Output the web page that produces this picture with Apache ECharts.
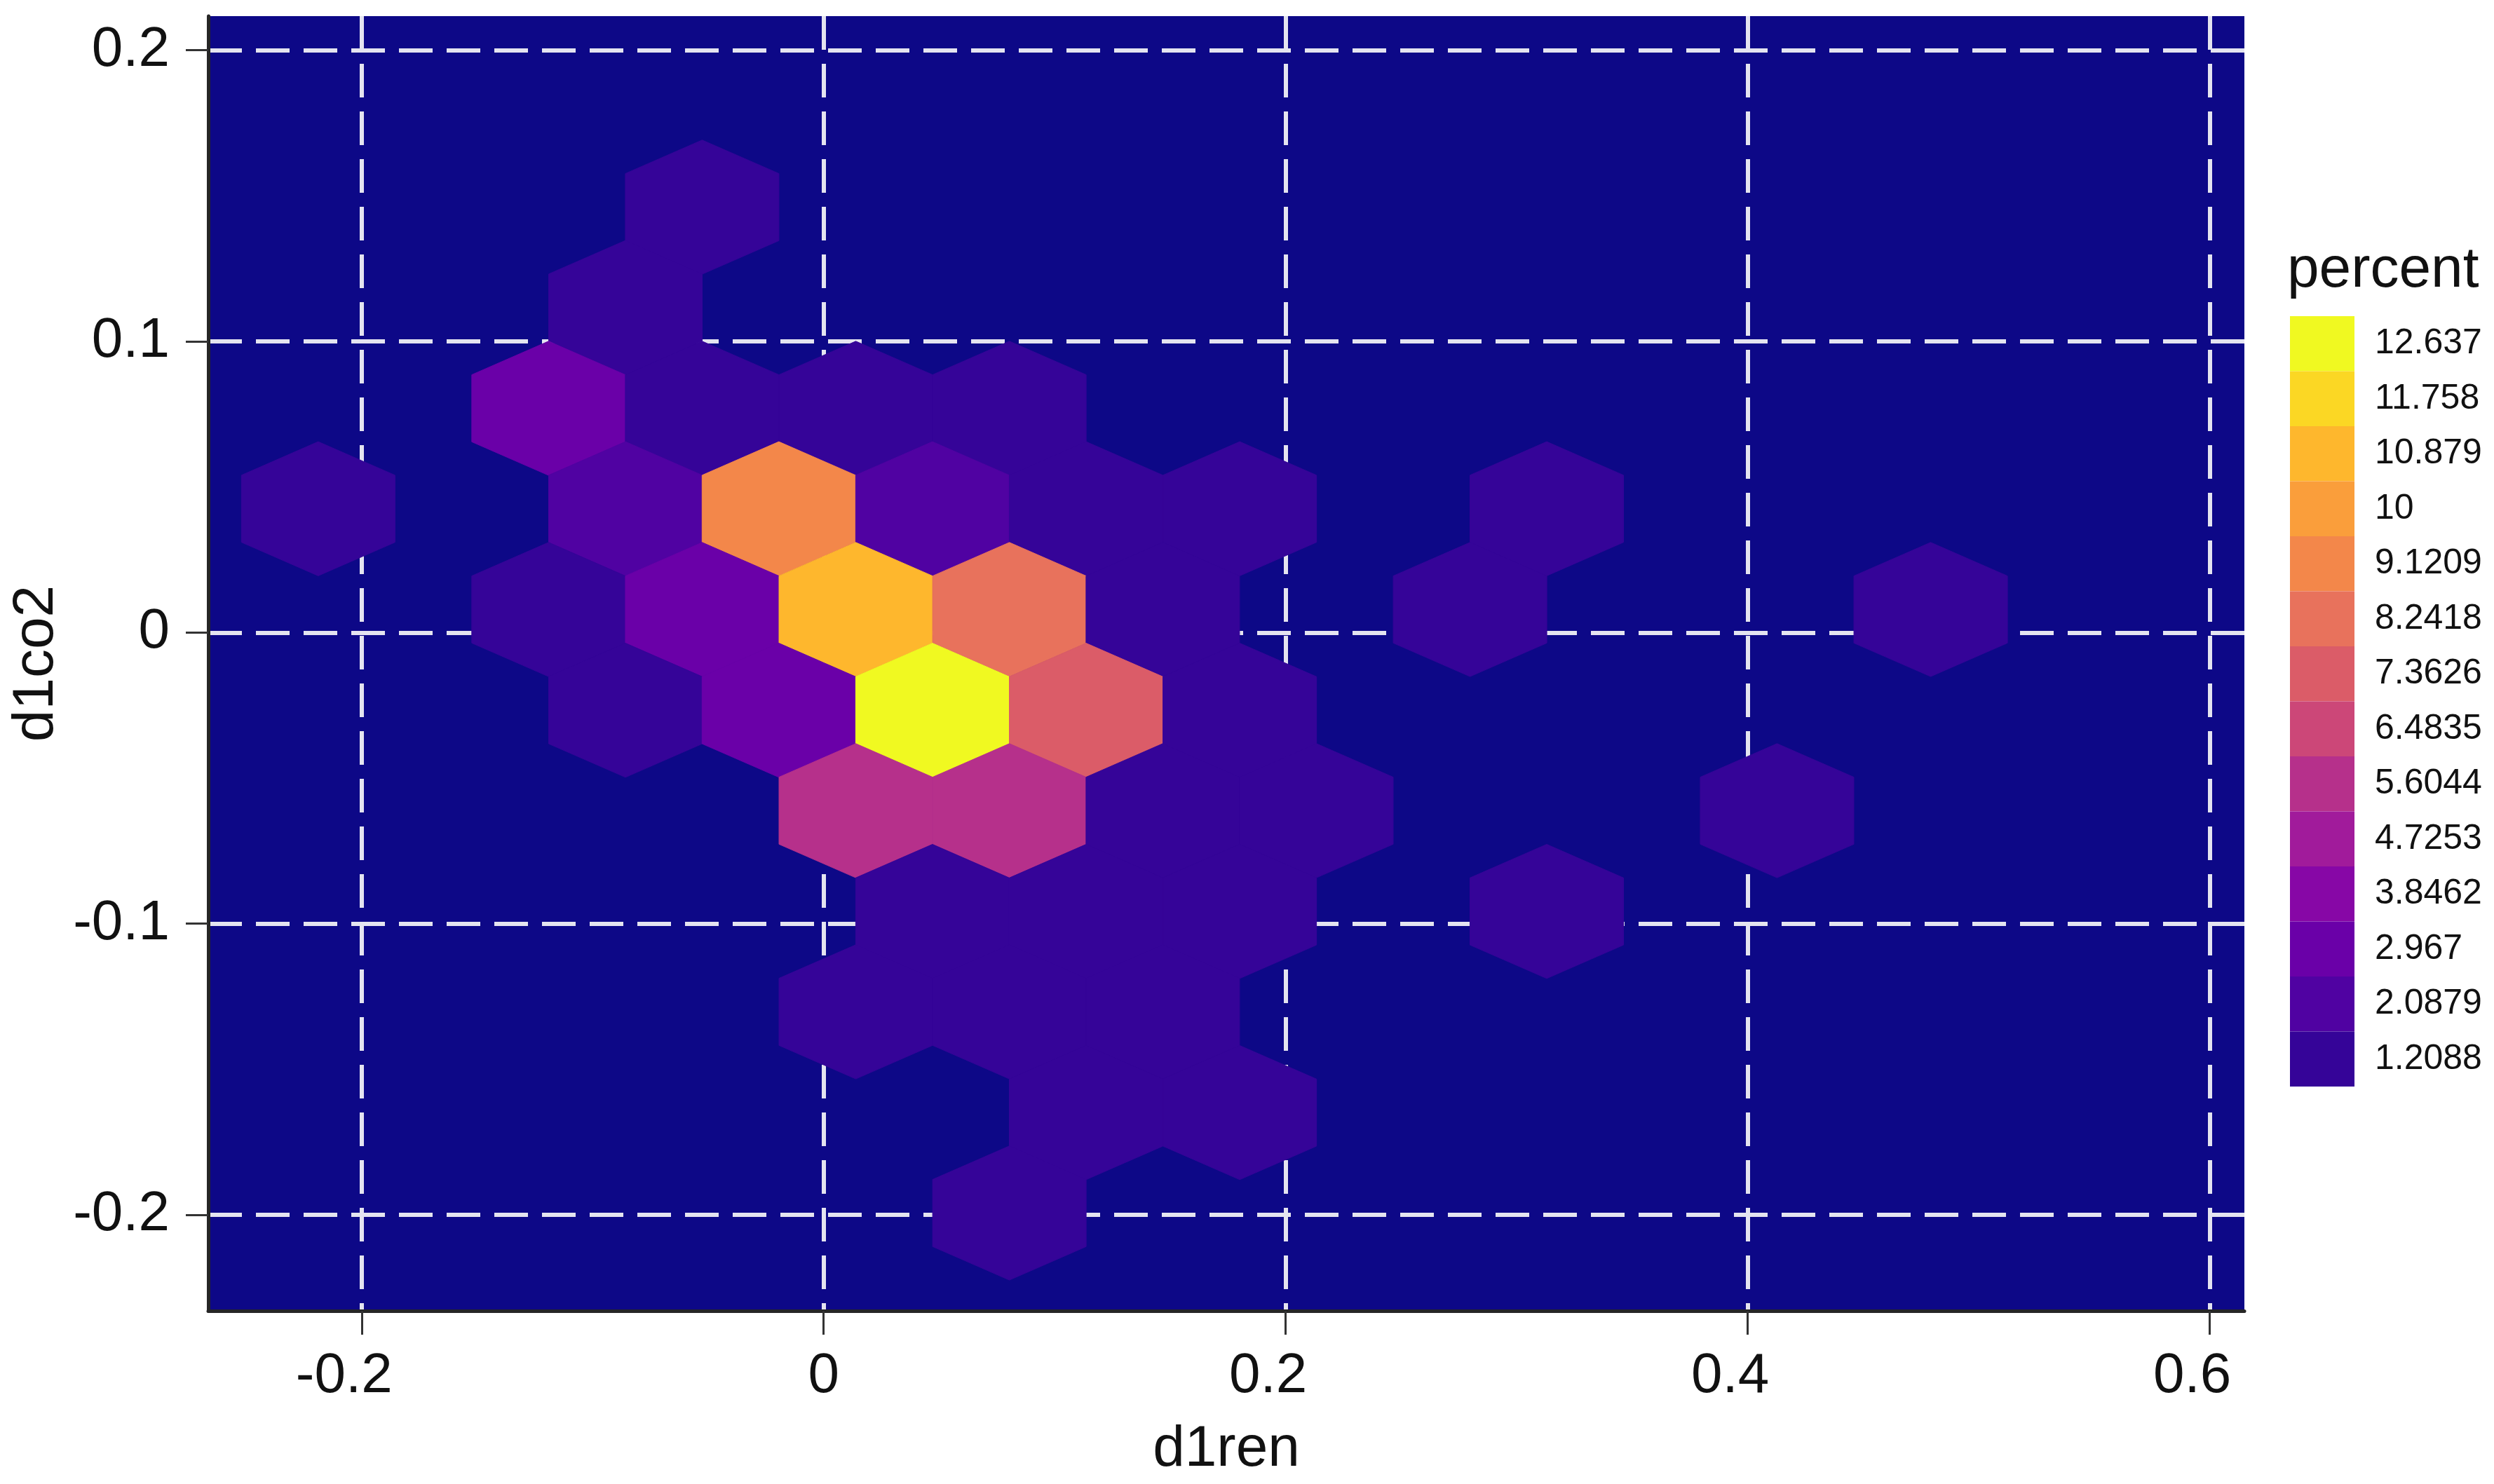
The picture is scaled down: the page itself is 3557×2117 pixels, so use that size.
<!DOCTYPE html>
<html>
<head>
<meta charset="utf-8">
<script src="https://cdn.jsdelivr.net/npm/echarts@6/dist/echarts.min.js"></script>
<style>
html, body { margin: 0; padding: 0; background: #ffffff; }
#chart { width: 3557px; height: 2117px; }
</style>
</head>
<body>
<div id="chart"></div>
<script>
// ---------- data ----------
const xTicks = [-0.2, 0, 0.2, 0.4, 0.6];
const yTicks = [-0.2, -0.1, 0, 0.1, 0.2];

// hexagon centres (d1ren, d1co2) and percent per hexagon
const hexX = [
  -0.0526,
  -0.0858,
  -0.1191, -0.0526, 0.0139, 0.0804,
  -0.2188, -0.0858, -0.0194, 0.0471, 0.1136, 0.1801, 0.3130,
  -0.1191, -0.0526, 0.0139, 0.0804, 0.1468, 0.2798, 0.4792,
  -0.0858, -0.0194, 0.0471, 0.1136, 0.1801,
  0.0139, 0.0804, 0.1468, 0.2133, 0.4127,
  0.0471, 0.1136, 0.1801, 0.3130,
  0.0139, 0.0804, 0.1468,
  0.1136, 0.1801,
  0.0804
];
const hexY = [
  0.1461,
  0.1116,
  0.0770, 0.0770, 0.0770, 0.0770,
  0.0425, 0.0425, 0.0425, 0.0425, 0.0425, 0.0425, 0.0425,
  0.0079, 0.0079, 0.0079, 0.0079, 0.0079, 0.0079, 0.0079,
  -0.0267, -0.0267, -0.0267, -0.0267, -0.0267,
  -0.0612, -0.0612, -0.0612, -0.0612, -0.0612,
  -0.0958, -0.0958, -0.0958, -0.0958,
  -0.1303, -0.1303, -0.1303,
  -0.1649, -0.1649,
  -0.1994
];
const hexPercent = [
  1.2088,
  1.2088,
  2.967, 1.2088, 1.2088, 1.2088,
  1.2088, 2.0879, 9.1209, 2.0879, 1.2088, 1.2088, 1.2088,
  1.2088, 2.967, 10.879, 8.2418, 1.2088, 1.2088, 1.2088,
  1.2088, 2.967, 12.637, 7.3626, 1.2088,
  5.6044, 5.6044, 1.2088, 1.2088, 1.2088,
  1.2088, 1.2088, 1.2088, 1.2088,
  1.2088, 1.2088, 1.2088,
  1.2088, 1.2088,
  1.2088
];

const legendBreaks = [1.2088, 2.0879, 2.967, 3.8462, 4.7253, 5.6044, 6.4835, 7.3626, 8.2418, 9.1209, 10, 10.879, 11.758, 12.637];
const legendLabels = ['1.2088', '2.0879', '2.967', '3.8462', '4.7253', '5.6044', '6.4835', '7.3626', '8.2418', '9.1209', '10', '10.879', '11.758', '12.637'];

// ---------- styles ----------
const plasmaColors = ['#350498', '#5002a2', '#6a00a8', '#8707a6', '#a11b9b', '#b6308b', '#cc4778',
                      '#db5c68', '#e8725c', '#f3874a', '#fa9e3b', '#feb72d', '#fbd724', '#f0f921'];
const HEX_W = 0.06647;   // hexagon width in d1ren units
const HEX_R = 0.02303;   // hexagon circumradius in d1co2 units
const FONT = '"Liberation Sans", Arial, Helvetica, sans-serif';

const seriesData = hexX.map((x, i) => [x, hexY[i], hexPercent[i]]);
const halfStep = (legendBreaks[1] - legendBreaks[0]) / 2;
const pieces = legendBreaks.map((b, i) => ({
  gte: b - halfStep, lt: b + halfStep, label: legendLabels[i], color: plasmaColors[i]
}));

const chart = echarts.init(document.getElementById('chart'), null, { renderer: 'canvas' });

const labelFont = { fontSize: 80, color: '#111111', fontFamily: FONT };

const axisCommon = {
  type: 'value',
  axisLine: { show: true, onZero: false, lineStyle: { color: '#262626', width: 5 } },
  axisTick: { show: true, length: 34, lineStyle: { color: '#333333', width: 3 } },
  splitLine: { show: true, lineStyle: { color: '#e4e4f0', width: 6, type: [48, 20] } },
  axisLabel: Object.assign({}, labelFont),
  nameLocation: 'middle',
  nameTextStyle: { fontSize: 82, color: '#111111', fontFamily: FONT }
};

chart.setOption({
  animation: false,
  backgroundColor: '#ffffff',
  title: {
    text: 'percent',
    left: 3257,
    top: 340,
    padding: 5,
    textStyle: { fontSize: 82, fontWeight: 'normal', color: '#111111', fontFamily: FONT }
  },
  grid: {
    left: 297, top: 23, width: 2904, height: 1847,
    show: true, backgroundColor: '#0d0887', borderWidth: 0
  },
  xAxis: Object.assign({}, axisCommon, {
    min: -0.2664, max: 0.6150,
    name: 'd1ren', nameGap: 157,
    axisTick: Object.assign({}, axisCommon.axisTick, { customValues: xTicks }),
    axisLabel: Object.assign({}, labelFont, {
      customValues: xTicks,
      margin: 54,
      formatter: function (v) { return v === 0 ? '{z|0}' : '{n|' + v + '}'; },
      rich: {
        z: Object.assign({}, labelFont),
        n: Object.assign({}, labelFont, { padding: [0, 50, 0, 0] })
      }
    })
  }),
  yAxis: Object.assign({}, axisCommon, {
    min: -0.2330, max: 0.2117,
    name: 'd1co2', nameGap: 193,
    axisTick: Object.assign({}, axisCommon.axisTick, { length: 32, customValues: yTicks }),
    axisLabel: Object.assign({}, labelFont, { customValues: yTicks, margin: 55 })
  }),
  visualMap: {
    type: 'piecewise',
    dimension: 2,
    seriesIndex: 0,
    pieces: pieces,
    orient: 'vertical',
    align: 'left',
    left: 3261,
    top: 446,
    padding: 5,
    itemWidth: 92,
    itemHeight: 78.5,
    itemGap: 0,
    itemSymbol: 'rect',
    textGap: 29,
    showLabel: true,
    selectedMode: false,
    hoverLink: false,
    textStyle: { fontSize: 50, color: '#111111', fontFamily: FONT }
  },
  series: [{
    type: 'custom',
    coordinateSystem: 'cartesian2d',
    encode: { x: 0, y: 1 },
    data: seriesData,
    clip: true,
    z: 3,
    renderItem: function (params, api) {
      const cx = api.value(0), cy = api.value(1);
      const pts = [
        [cx, cy + HEX_R], [cx + HEX_W / 2, cy + HEX_R / 2], [cx + HEX_W / 2, cy - HEX_R / 2],
        [cx, cy - HEX_R], [cx - HEX_W / 2, cy - HEX_R / 2], [cx - HEX_W / 2, cy + HEX_R / 2]
      ].map(p => api.coord(p));
      const col = api.visual('color');
      return {
        type: 'polygon',
        shape: { points: pts },
        style: { fill: col, stroke: col, lineWidth: 1 }
      };
    }
  }]
});
</script>
</body>
</html>
